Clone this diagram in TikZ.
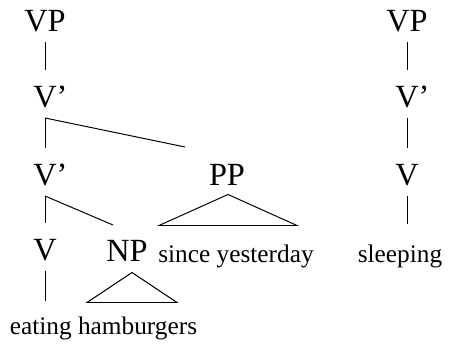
\documentclass[tikz,border=0pt]{standalone}
\usepackage{fontspec}
\setmainfont{Liberation Serif}
\begin{document}
\begin{tikzpicture}[line width=0.7pt,
    cat/.style={anchor=base, inner sep=0pt, font=\fontsize{23}{27}\selectfont},
    word/.style={anchor=base, inner sep=0pt, font=\fontsize{18}{22}\selectfont},
    branch/.style={shorten <=0.25cm, shorten >=0.375cm}]
    \useasboundingbox (0,0) rectangle (11.225,8.65);
    % left tree
    \node (vpL) at (1.125,7.875) [cat] {VP};
    \node (vbarA) at (1.125,5.975) [cat] {V\rlap{'}};
    \node (vbarB) at (1.125,4.025) [cat] {V\rlap{'}};
    \node (pp) at (5.675,4.025) [cat] {PP};
    \node (vL) at (1.125,2.15) [cat] {V};
    \node (np) at (3.175,2.125) [cat] {NP};
    \node (since) at (5.9,2.1) [word] {since yesterday};
    \node (eating) at (2.5875,0.3) [word] {eating hamburgers};
    \coordinate (stubPP) at (4.625,4.975);
    \coordinate (stubNP) at (2.825,3.025);
    \draw [branch] (vpL) -- (vbarA);
    \draw [branch] (vbarA) -- (vbarB);
    \draw ([yshift=-0.25cm]vbarA.south) -- (stubPP);
    \draw [branch] (vbarB) -- (vL);
    \draw ([yshift=-0.25cm]vbarB.south) -- (stubNP);
    \draw [branch] (vL) -- (vL |- eating.north);
    % triangles
    \draw ([xshift=0.125cm,yshift=-0.275cm]np.south) -- ++(-1.125,-0.75) -- ++(2.25,0) -- cycle;
    \draw ([xshift=0.025cm,yshift=-0.225cm]pp.south) -- ++(-1.725,-0.775) -- ++(3.45,0) -- cycle;
    % right tree
    \node (vpR) at (10.175,7.875) [cat] {VP};
    \node (vbarR) at (10.175,5.975) [cat] {V\rlap{'}};
    \node (vR) at (10.175,4.025) [cat] {V};
    \node (sleeping) at (10.0,2.1) [word] {sleeping};
    \draw [branch] (vpR) -- (vbarR);
    \draw [branch] (vbarR) -- (vR);
    \draw [branch, shorten >=0.5cm] (vR) -- (vR |- sleeping.north);
\end{tikzpicture}
\end{document}
